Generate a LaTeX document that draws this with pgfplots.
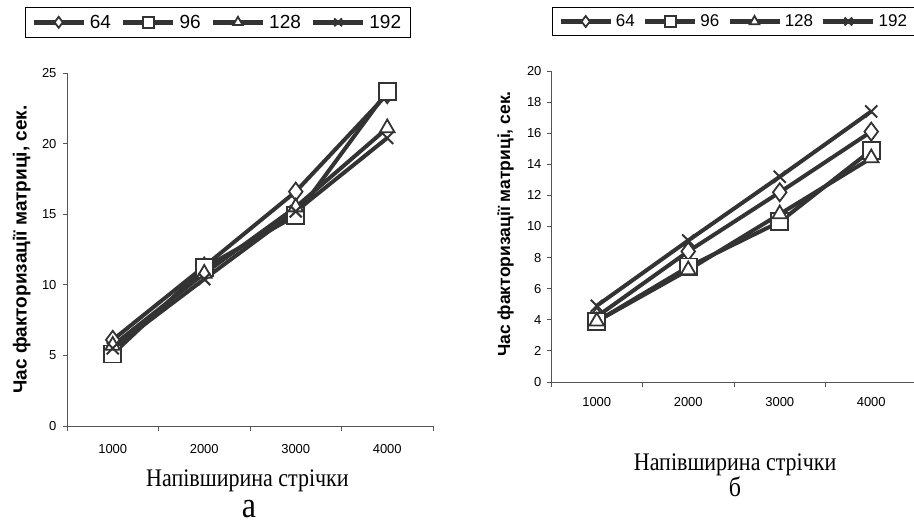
\documentclass[border=0pt]{standalone}
\usepackage{fontspec}
\setmainfont{Liberation Sans}
\newfontfamily\seriffont{Liberation Serif}
\usepackage{pgfplots}
\pgfplotsset{compat=1.18}
\definecolor{ln}{HTML}{333333}
\definecolor{ax}{HTML}{555555}
\pgfplotsset{
  mybase/.style={
    scale only axis, width=366pt,
    xmin=-0.5, xmax=3.5, ymin=0,
    axis x line*=bottom, axis y line*=left,
    axis line style={-, ax, line width=0.9pt},
    xtick={0,1,2,3}, xticklabels={1000,2000,3000,4000},
    major x tick style={draw=none},
    minor xtick={-0.5,0.5,1.5,2.5,3.5},
    tick align=outside, major tick length=4pt, minor tick length=5pt,
    every tick/.style={ax, line width=0.9pt},
    /pgf/number format/assume math mode=true,
    every tick label/.append style={font=\fontsize{13}{15}\selectfont, text=black},
    legend columns=4,
    legend cell align=left,
    legend image code/.code={\draw[##1, line width=4.5pt, mark size=5.5pt, mark repeat=2, mark phase=2] plot coordinates {(0pt,0pt) (25pt,0pt) (50pt,0pt)};},
  },
  s64/.style={ln, line width=4pt, mark=diamond*, mark size=9pt, mark options={fill=white, draw=ln, line width=1.8pt, solid}},
  s96/.style={ln, line width=4pt, mark=square*, mark size=8.5pt, mark options={fill=white, draw=ln, line width=1.8pt, solid}},
  s128/.style={ln, line width=4pt, mark=triangle*, mark size=8.5pt, mark options={fill=white, draw=ln, line width=1.8pt, solid}},
  s192/.style={ln, line width=4pt, mark=x, mark size=8.5pt, mark options={draw=ln, line width=2pt, solid}},
}
\newcommand{\stretchy}[1]{\scalebox{1}[1.15]{#1}}
\begin{document}
\begin{tikzpicture}
\path[use as bounding box] (0,0) rectangle (914pt,526pt);
% ---------- left chart (a)
\begin{axis}[mybase,
  at={(67pt,100pt)}, anchor=south west,
  height=353pt, ymax=25, ytick={0,5,...,25},
  xticklabel style={yshift=-11pt},
  yticklabel style={xshift=-3pt},
  xlabel={\seriffont\fontsize{22}{24}\selectfont\stretchy{Напівширина стрічки}},
  every axis x label/.style={at={(axis description cs:0.493,-0.170)}, anchor=base},
  ylabel={\bfseries\fontsize{19}{21}\selectfont Час факторизації матриці, сек.},
  every axis y label/.style={at={(axis description cs:-0.124,0.5)}, anchor=center, rotate=90},
  legend style={at={(axis description cs:-0.1148,1.187)}, anchor=north west,
    draw=black, line width=0.9pt, inner xsep=6pt, inner ysep=4.5pt,
    font=\fontsize{19}{21}\selectfont,
    nodes={inner sep=3pt},
    /tikz/every odd column/.append style={column sep=1pt},
    /tikz/every even column/.append style={column sep=7pt}},
]
\addplot[s64] coordinates {(0,6.1) (1,11.3) (2,16.6) (3,23.5)};
\addlegendentry{64}
\addplot[s96] coordinates {(0,5.1) (1,11.2) (2,14.9) (3,23.7)};
\addlegendentry{96}
\addplot[s128] coordinates {(0,5.7) (1,10.8) (2,15.5) (3,21.1)};
\addlegendentry{128}
\addplot[s192] coordinates {(0,5.5) (1,10.4) (2,15.2) (3,20.4)};
\addlegendentry{192}
\end{axis}
% ---------- right chart (b)
\begin{axis}[mybase,
  at={(551pt,144pt)}, anchor=south west,
  height=311pt, ymax=20, ytick={0,2,...,20},
  xticklabel style={yshift=-8pt},
  yticklabel style={xshift=-2pt},
  xlabel={\seriffont\fontsize{22}{24}\selectfont\stretchy{Напівширина стрічки}},
  every axis x label/.style={at={(axis description cs:0.503,-0.286)}, anchor=base},
  ylabel={\bfseries\fontsize{17.5}{19}\selectfont Час факторизації матриці, сек.},
  every axis y label/.style={at={(axis description cs:-0.124,0.508)}, anchor=center, rotate=90},
  legend style={at={(axis description cs:0.0027,1.2046)}, anchor=north west,
    draw=black, line width=0.9pt, inner xsep=6pt, inner ysep=4pt,
    font=\fontsize{17}{19}\selectfont,
    nodes={inner sep=3pt},
    /tikz/every odd column/.append style={column sep=0pt},
    /tikz/every even column/.append style={column sep=5pt}},
]
\addplot[s64] coordinates {(0,4.2) (1,8.4) (2,12.2) (3,16.1)};
\addlegendentry{64}
\addplot[s96] coordinates {(0,3.9) (1,7.4) (2,10.3) (3,14.9)};
\addlegendentry{96}
\addplot[s128] coordinates {(0,3.9) (1,7.2) (2,10.8) (3,14.4)};
\addlegendentry{128}
\addplot[s192] coordinates {(0,4.9) (1,9.1) (2,13.2) (3,17.4)};
\addlegendentry{192\hspace{14pt}}
\end{axis}
\node[font=\seriffont\fontsize{32}{34}\selectfont] at (249pt,17pt) {\stretchy{а}};
\node[font=\seriffont\fontsize{24}{26}\selectfont] at (735pt,39pt) {\stretchy{б}};
\end{tikzpicture}
\end{document}
